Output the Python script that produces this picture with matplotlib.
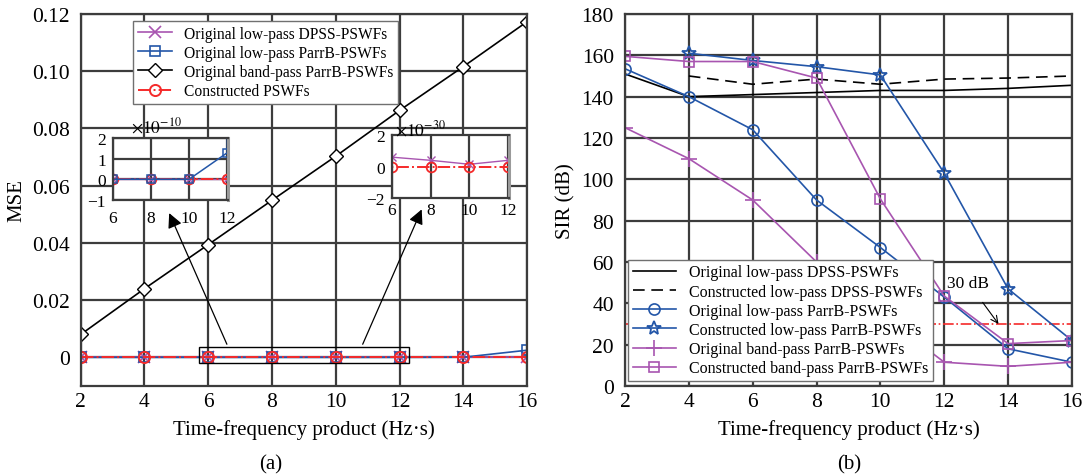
import matplotlib
matplotlib.use('Agg')
import matplotlib.pyplot as plt
import numpy as np
from matplotlib.patches import Rectangle

plt.rcParams['font.family'] = ['Liberation Serif', 'DejaVu Serif']
plt.rcParams['mathtext.fontset'] = 'stix'

# data
tbw = [2, 4, 6, 8, 10, 12, 14, 16]

# (a) MSE
mse_dpss_orig = [0.8e-30, 0.7e-30, 0.6e-30, 0.4e-30, 0.15e-30, 0.4e-30, 0.5e-30, 0.5e-30]
mse_parrb_orig = [1e-12, 1e-12, 1e-12, 1e-12, 1e-12, 1.3e-10, 5e-5, 2.5e-3]
mse_bp_orig = [0.008, 0.024, 0.0394, 0.0549, 0.0703, 0.0863, 0.1016, 0.1173]
mse_constructed = [0, 0, 0, 0, 0, 0, 0, 0]

# (b) SIR
sir_dpss_orig = [151, 140, 141, 142, 143, 143, 144, 145.5]
sir_dpss_cons = [np.nan, 150, 146, 148.5, 146, 148.5, 149, 150]
sir_parrb_orig = [153.5, 140, 124, 90, 67, 43, 18, 11.5]
sir_parrb_cons = [np.nan, 161, 157.5, 154.5, 150.5, 103, 47, 22]
sir_bp_orig = [125, 110, 90, 60, 35, 11.5, 9.5, 11.5]
sir_bp_cons = [159.5, 157, 157, 149, 90.5, 43.5, 20.5, 22]
sir_limit = 30

purple = '#A855B0'
blue = '#2356A8'
red = '#F52A2A'
grid_c = '#3c3c3c'

fig = plt.figure(figsize=(10.82, 4.77), dpi=100)
ax1 = fig.add_axes([0.0746, 0.1887, 0.4125, 0.7799])
ax2 = fig.add_axes([0.5776, 0.1887, 0.4131, 0.7799])


def style_axes(ax, fs, pad=8):
    ax.grid(True, color=grid_c, lw=1.6)
    ax.set_axisbelow(True)
    for s in ax.spines.values():
        s.set_color(grid_c)
        s.set_linewidth(1.6)
    ax.tick_params(length=0, labelsize=fs, pad=pad)


# ---- (a)
ax1.plot(tbw, mse_dpss_orig, color=purple, marker='x', ms=8, mew=1.2, lw=1.2,
         label='Original low-pass DPSS-PSWFs')
ax1.plot(tbw, mse_parrb_orig, color=blue, marker='s', ms=7, mfc='none', mew=1.2, lw=1.2,
         label='Original low-pass ParrB-PSWFs')
ax1.plot(tbw, mse_bp_orig, color='black', marker='D', ms=7, mfc='white', mew=1.0, lw=1.2,
         label='Original band-pass ParrB-PSWFs')
ax1.plot(tbw, mse_constructed, color=red, marker='o', ms=8, mfc='none', mew=1.4, lw=1.4,
         ls='-.', label='Constructed PSWFs')
ax1.set_xlim(2, 16)
ax1.set_ylim(-0.01, 0.12)
ax1.set_xticks(tbw)
ax1.set_yticks([0, 0.02, 0.04, 0.06, 0.08, 0.10, 0.12])
ax1.set_yticklabels(['0', '0.02', '0.04', '0.06', '0.08', '0.10', '0.12'])
style_axes(ax1, 15.5)
ax1.tick_params(axis='x', pad=4)
ax1.set_xlabel('Time-frequency product (Hz·s)', fontsize=15, labelpad=6)
ax1.set_ylabel('MSE', fontsize=15, labelpad=4)
leg = ax1.legend(loc='upper left', bbox_to_anchor=(0.117, 0.981), borderaxespad=0,
                 fontsize=11.2, handlelength=2.2, labelspacing=0.2, borderpad=0.3,
                 fancybox=False, framealpha=1, edgecolor='#707070')
leg.get_frame().set_linewidth(1.0)

ax1.add_patch(Rectangle((5.7, -0.0018), 6.6, 0.0055, fill=False, ec='black', lw=1.0, zorder=5))
ax1.annotate('', xy=(4.74, 0.0513), xytext=(6.62, 0.0037),
             arrowprops=dict(arrowstyle='-|>', color='black', lw=0.9, mutation_scale=22))
ax1.annotate('', xy=(12.73, 0.0526), xytext=(10.81, 0.0037),
             arrowprops=dict(arrowstyle='-|>', color='black', lw=0.9, mutation_scale=22))

# insets
in1 = fig.add_axes([0.1042, 0.5786, 0.1068, 0.1294])
in1.plot(tbw, np.array(mse_dpss_orig) / 1e-10, color=purple, marker='x', ms=6, mew=1.0, lw=1.0)
in1.plot(tbw, np.array(mse_constructed) / 1e-10, color=red, marker='o', ms=7, mfc='none',
         mew=1.3, lw=1.4, ls='-.')
in1.plot(tbw, np.array(mse_parrb_orig) / 1e-10, color=blue, marker='s', ms=6, mfc='none',
         mew=1.1, lw=1.1)
in1.set_xlim(6, 12.05)
in1.set_ylim(-1, 2)
in1.set_xticks([6, 8, 10, 12])
in1.set_yticks([-1, 0, 1, 2])
in1.set_yticklabels(['\u22121', '0', '1', '2'])
style_axes(in1, 12.5)
in1.tick_params(axis='x', pad=7)
in1.tick_params(axis='y', pad=5)
in1.spines['right'].set_color('#9a9a9a')
in1.spines['right'].set_linewidth(2.2)
in1.text(0.16, 1.03, r'$\times10^{-10}$', transform=in1.transAxes, fontsize=12.5,
         ha='left', va='bottom')

in2 = fig.add_axes([0.362, 0.5822, 0.1087, 0.1327])
in2.plot(tbw, np.array(mse_dpss_orig) / 1e-30, color=purple, marker='x', ms=6, mew=1.0, lw=1.0)
in2.plot(tbw, np.array(mse_constructed) / 1e-30, color=red, marker='o', ms=7, mfc='none',
         mew=1.3, lw=1.4, ls='-.')
in2.set_xlim(6, 12.05)
in2.set_ylim(-2, 2)
in2.set_xticks([6, 8, 10, 12])
in2.set_yticks([-2, 0, 2])
in2.set_yticklabels(['\u22122', '0', '2'])
style_axes(in2, 12.5)
in2.tick_params(axis='x', pad=3)
in2.tick_params(axis='y', pad=5)
in2.grid(False, axis='y')
in2.spines['right'].set_color('#9a9a9a')
in2.spines['right'].set_linewidth(2.2)
in2.text(0.03, 0.93, r'$\times10^{-30}$', transform=in2.transAxes, fontsize=12.5,
         ha='left', va='bottom')

# ---- (b)
ax2.plot(tbw, sir_dpss_orig, color='black', lw=1.2, label='Original low-pass DPSS-PSWFs')
ax2.plot(tbw, sir_dpss_cons, color='black', lw=1.2, ls=(0, (7, 4)),
         label='Constructed low-pass DPSS-PSWFs')
ax2.plot(tbw, sir_parrb_orig, color=blue, marker='o', ms=8, mfc='none', mew=1.2, lw=1.2,
         label='Original low-pass ParrB-PSWFs')
ax2.plot(tbw, sir_parrb_cons, color=blue, marker='*', ms=10, mfc='none', mew=1.3, lw=1.2,
         label='Constructed low-pass ParrB-PSWFs')
ax2.plot(tbw, sir_bp_orig, color=purple, marker='+', ms=11, mew=1.2, lw=1.2,
         label='Original band-pass ParrB-PSWFs')
ax2.plot(tbw, sir_bp_cons, color=purple, marker='s', ms=7, mfc='none', mew=1.2, lw=1.2,
         label='Constructed band-pass ParrB-PSWFs')
ax2.axhline(sir_limit, color=red, lw=1.2, ls='-.', zorder=1.5)
ax2.annotate('30 dB', xy=(13.7, sir_limit), xytext=(12.75, 50), ha='center', va='center',
             fontsize=12.5, arrowprops=dict(arrowstyle='->', color='black', lw=0.8,
                                            shrinkA=8, shrinkB=0))
ax2.set_xlim(2, 16)
ax2.set_ylim(0, 180)
ax2.set_xticks(tbw)
ax2.set_yticks(range(0, 181, 20))
style_axes(ax2, 15.5)
ax2.tick_params(axis='x', pad=4)
ax2.set_xlabel('Time-frequency product (Hz·s)', fontsize=15, labelpad=6)
ax2.set_ylabel('SIR (dB)', fontsize=15, labelpad=4)
leg2 = ax2.legend(loc='lower left', bbox_to_anchor=(0.007, 0.013), borderaxespad=0,
                  fontsize=11.5, handlelength=2.7, labelspacing=0.2, borderpad=0.3,
                  fancybox=False, framealpha=1, edgecolor='#707070')
leg2.get_frame().set_linewidth(1.0)

fig.text(0.25, 0.015, '(a)', fontsize=15, ha='center')
fig.text(0.785, 0.015, '(b)', fontsize=15, ha='center')

fig.savefig('out.png', dpi=100)
